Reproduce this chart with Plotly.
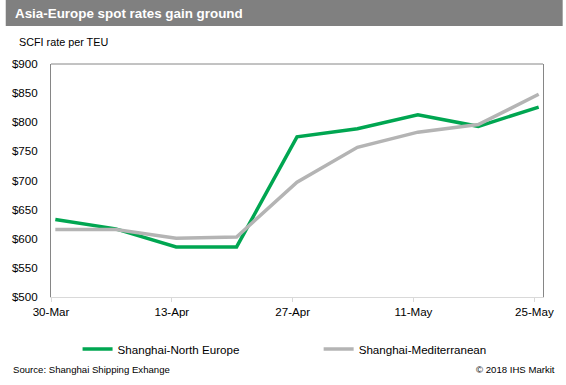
import plotly.graph_objects as go

dates = ["2018-03-30", "2018-04-06", "2018-04-13", "2018-04-20", "2018-04-27",
         "2018-05-04", "2018-05-11", "2018-05-18", "2018-05-25"]
north_europe = [633, 617, 586, 586, 775, 789, 813, 793, 826]
mediterranean = [616, 616, 601, 603, 697, 757, 783, 796, 848]
tick_dates = ["2018-03-30", "2018-04-13", "2018-04-27", "2018-05-11", "2018-05-25"]
tick_labels = ["30-Mar", "13-Apr", "27-Apr", "11-May", "25-May"]
y_ticks = [500, 550, 600, 650, 700, 750, 800, 850, 900]
y_labels = ["$" + str(v) for v in y_ticks]

W, H = 566, 385
ML, MR, MT, MB = 46, 20, 64, 88
PW, PH = W - ML - MR, H - MT - MB

def px(x):
    return (x - ML) / PW

def py(y):
    return (H - MB - y) / PH

# points plotted at mid-day (Excel date axis style)
xs = [d + " 12:00" for d in dates]

FONT = "Liberation Sans, Arial, sans-serif"
FS = 11.6

fig = go.Figure()
fig.add_trace(go.Scatter(x=xs, y=north_europe, mode="lines", name="Shanghai-North Europe",
                         line=dict(color="#00A651", width=3.5), legend="legend"))
fig.add_trace(go.Scatter(x=xs, y=mediterranean, mode="lines", name="Shanghai-Mediterranean",
                         line=dict(color="#B4B4B4", width=3.5), legend="legend2"))

leg_common = dict(orientation="h", xanchor="left", yanchor="middle",
                  font=dict(size=FS, family=FONT), bgcolor="rgba(0,0,0,0)")

fig.update_layout(
    width=W, height=H,
    margin=dict(l=ML, r=MR, t=MT, b=MB),
    paper_bgcolor="white", plot_bgcolor="white",
    font=dict(family=FONT, size=FS, color="#000000"),
    showlegend=True,
    legend=dict(x=px(73), y=py(349), **leg_common),
    legend2=dict(x=px(318), y=py(349), **leg_common),
    xaxis=dict(type="date", range=["2018-03-30", "2018-05-26"],
               tickvals=tick_dates, ticktext=tick_labels,
               showgrid=False, zeroline=False,
               showline=True, linecolor="#D9D9D9", linewidth=1,
               ticks="outside", ticklen=4, tickcolor="#D9D9D9",
               tickfont=dict(size=FS, family=FONT)),
    yaxis=dict(range=[500, 900], tickvals=y_ticks, ticktext=y_labels,
               showgrid=False, zeroline=False,
               showline=True, linecolor="#868686", linewidth=1, mirror=True,
               ticks="outside", ticklen=10, tickcolor="rgba(0,0,0,0)",
               tickfont=dict(size=FS, family=FONT)),
    shapes=[
        dict(type="rect", xref="paper", yref="paper", x0=px(0), x1=px(W), y0=py(26), y1=py(0),
             fillcolor="#808080", line=dict(width=0), layer="below"),
        dict(type="line", xref="paper", yref="paper", x0=0, x1=1, y0=1, y1=1,
             line=dict(color="#868686", width=1)),
    ],
    annotations=[
        dict(text="<b>Asia-Europe spot rates gain ground</b>", xref="paper", yref="paper",
             x=px(7), y=py(13), xanchor="left", yanchor="middle", showarrow=False,
             font=dict(size=13.4, color="white", family=FONT)),
        dict(text="SCFI rate per TEU", xref="paper", yref="paper",
             x=px(11), y=py(42), xanchor="left", yanchor="middle", showarrow=False,
             font=dict(size=10.8, color="black", family=FONT)),
        dict(text="Source: Shanghai Shipping Exhange", xref="paper", yref="paper",
             x=px(5), y=py(369), xanchor="left", yanchor="middle", showarrow=False,
             font=dict(size=9.6, color="black", family=FONT)),
        dict(text="© 2018 IHS Markit", xref="paper", yref="paper",
             x=px(560), y=py(369), xanchor="right", yanchor="middle", showarrow=False,
             font=dict(size=9.6, color="black", family=FONT)),
    ],
)

fig.write_html("out.html", config={"displayModeBar": False},
               post_script="document.body.style.margin='0';document.body.style.overflow='hidden';")
